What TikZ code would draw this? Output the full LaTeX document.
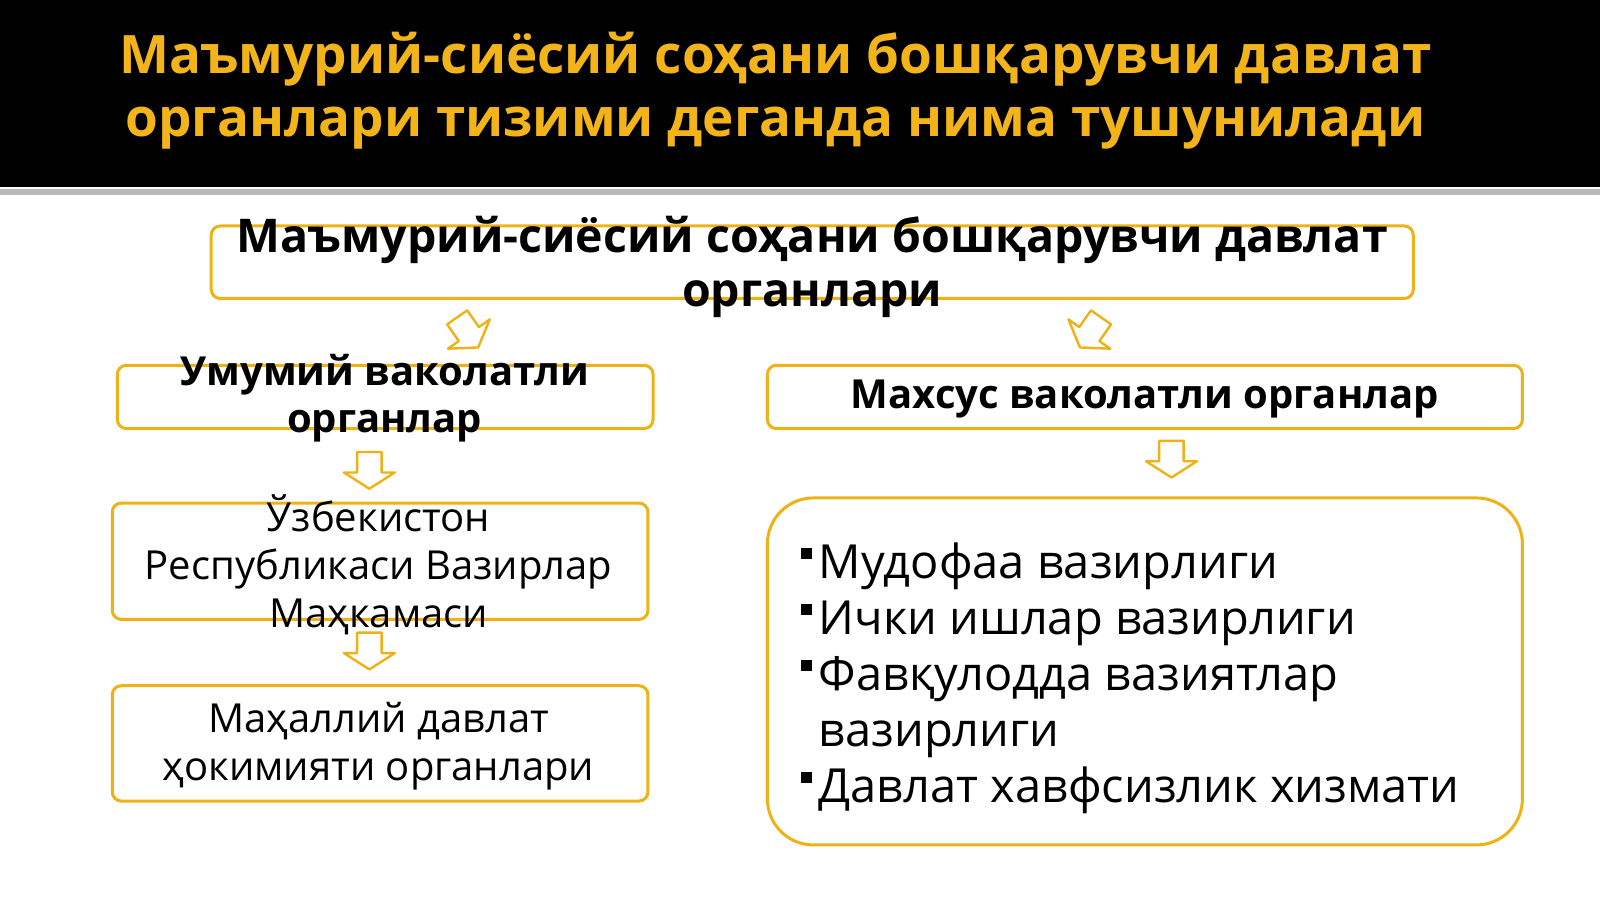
\documentclass[tikz,border=0pt]{standalone}
\usepackage{fontspec}
\setmainfont{Open Sans}
\definecolor{gold}{RGB}{242,180,24}
\definecolor{rim}{RGB}{238,178,22}
\newcommand{\bul}{\makebox[17.5pt][l]{\rule[20pt]{11pt}{11pt}}}
\tikzset{
    box/.style={draw=rim, line width=3pt, rounded corners=9pt},
    pics/darrow/.style={code={
        \draw[rim, line width=2.4pt, fill=white, line join=round]
            (-12,0) -- (12,0) -- (12,20) -- (25,20) -- (0,36) -- (-25,20) -- (-12,20) -- cycle;
    }}
}

\begin{document}
\begin{tikzpicture}[x=1.0204pt,y=-1.0204pt]
            \useasboundingbox (0,0) rectangle (1568,881);
            \fill[black] (0,0) rectangle (1568,183);
            \fill[gray!55] (0,185) rectangle (1568,191);
            \node at (760,89)[gold, align=center, font=\fontsize{53}{63}\selectfont\bfseries] (title)
                {Маъмурий-сиёсий соҳани бошқарувчи давлат\\органлари тизими деганда нима тушунилади};

            % boxes
            \node at (796,257)[box, minimum width=1202pt, minimum height=72.5pt] (organ) {};
            \node at (377.5,389)[box, minimum width=535.7pt, minimum height=63.3pt] (gen) {};
            \node at (1122,389)[box, minimum width=755pt, minimum height=63.3pt] (spec) {};
            \node at (372.5,550)[box, minimum width=535.7pt, minimum height=116.3pt] (cab) {};
            \node at (372.5,728.5)[box, minimum width=535.7pt, minimum height=115.3pt] (local) {};
            \node at (1122,658)[box, rounded corners=46pt, minimum width=755pt, minimum height=347pt] (list) {};

            % texts
            \node at (796,262)[align=center, font=\fontsize{46.5}{54}\selectfont\bfseries] (organtxt)
                {Маъмурий-сиёсий соҳани бошқарувчи давлат\\органлари};
            \node at (377,390)[align=center, font=\fontsize{40}{47}\selectfont\bfseries] (gentxt)
                {Умумий ваколатли\\органлар};
            \node at (1122,391)[font=\fontsize{40}{47}\selectfont\bfseries] (spectxt)
                {Махсус ваколатли органлар};
            \node at (371,553)[align=center, font=\fontsize{40}{48}\selectfont] (cabtxt)
                {Ўзбекистон\\Республикаси Вазирлар\\Маҳкамаси};
            \node at (371,731)[align=center, font=\fontsize{40}{48}\selectfont] (localtxt)
                {Маҳаллий давлат\\ҳокимияти органлари};
            \node at (785,665)[anchor=west, align=left, inner sep=0pt, font=\fontsize{47}{56}\selectfont] (listtxt)
                {\bul Мудофаа вазирлиги\\\bul Ички ишлар вазирлиги\\\bul Фавқулодда вазиятлар\\\hspace*{17.5pt}вазирлиги\\\bul Давлат хавфсизлик хизмати};

            % arrows
            \pic[rotate=35] at (448,311) {darrow};
            \pic[rotate=-35] at (1079,311) {darrow};
            \pic at (362,443) {darrow};
            \pic at (1148,432) {darrow};
            \pic at (362,620) {darrow};
\end{tikzpicture}
\end{document}
